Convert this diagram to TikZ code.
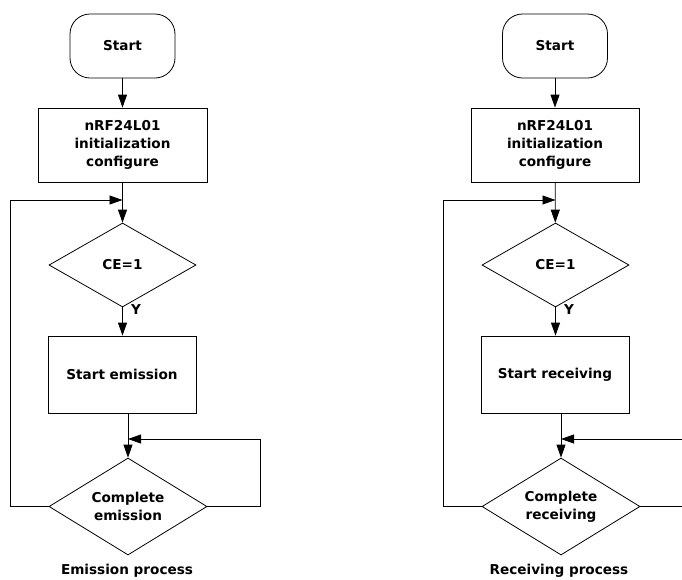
\documentclass[tikz,border=0pt]{standalone}
\usepackage{fontspec}
\setmainfont{DejaVu Sans}
\usetikzlibrary{shapes.geometric,arrows.meta}
\begin{document}
\begin{tikzpicture}[x=1pt,y=-1pt,
  every node/.style={font=\bfseries\fontsize{13.6}{18.3}\selectfont, align=center},
  line/.style={draw=black, line width=0.8pt},
  arr/.style={line, -{Triangle[length=13pt,width=9pt]}},
  term/.style={line, rounded corners=20pt, minimum width=105pt, minimum height=64pt, inner sep=0pt},
  proc/.style={line, rectangle, inner sep=0pt},
  dec/.style={line, diamond, inner sep=0pt, aspect=1.7}
]
\useasboundingbox (0,0) rectangle (682,579);
\clip (0,0) rectangle (682,579);

% ---------- Left: emission ----------
\node[term] (sL) at (122.5,46) {Start};
\node[proc, minimum width=169pt, minimum height=74pt] (iL) at (122.5,145) {nRF24L01\\initialization\\configure};
\node[dec, minimum width=147pt, minimum height=84pt] (cL) at (122.5,265) {CE=1};
\node[proc, minimum width=148pt, minimum height=77pt] (eL) at (122,374.5) {Start emission};
\node[dec, minimum width=158pt, minimum height=97pt] (dL) at (128,506.5) {Complete\\emission};
\node[anchor=base] (capL) at (127,574.5) {Emission process};
\node (yL) at (136,310) {Y};

\coordinate (jL) at (122.5,200);
\coordinate (kL) at (128,439);
\coordinate (rL) at (260,506.5);
\coordinate (lL) at (10,506.5);

\draw[arr] (sL) -- (iL);
\draw[arr] (iL) -- (cL);
\draw[arr] (cL) -- (cL.south |- eL.north);
\draw[arr] (eL.south -| dL.north) -- (dL.north);
\draw[arr] (dL.east) -- (rL) -- (rL |- kL) -- (kL);
\draw[arr] (dL.west) -- (lL) -- (lL |- jL) -- (jL);

% ---------- Right: receiving ----------
\node[term] (sR) at (555,46) {Start};
\node[proc, minimum width=168pt, minimum height=74pt] (iR) at (555,145) {nRF24L01\\initialization\\configure};
\node[dec, minimum width=147pt, minimum height=84pt] (cR) at (555.5,265) {CE=1};
\node[proc, minimum width=148pt, minimum height=77pt] (eR) at (555,374.5) {Start receiving};
\node[dec, minimum width=158pt, minimum height=97pt] (dR) at (561,506.5) {Complete\\receiving};
\node[anchor=base] (capR) at (559,574.5) {Receiving process};
\node (yR) at (569,310) {Y};

\coordinate (jR) at (555.5,200);
\coordinate (kR) at (561,439);
\coordinate (rR) at (693,506.5);
\coordinate (lR) at (443,506.5);

\draw[arr] (sR) -- (iR);
\draw[arr] (iR) -- (cR);
\draw[arr] (cR) -- (cR.south |- eR.north);
\draw[arr] (eR.south -| dR.north) -- (dR.north);
\draw[arr] (dR.east) -- (rR) -- (rR |- kR) -- (kR);
\draw[arr] (dR.west) -- (lR) -- (lR |- jR) -- (jR);
\end{tikzpicture}
\end{document}
